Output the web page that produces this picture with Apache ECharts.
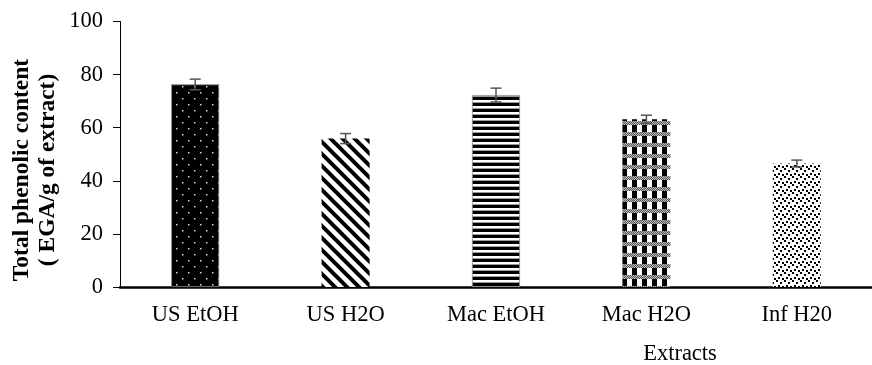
<!DOCTYPE html>
<html>
<head>
<meta charset="utf-8">
<script src="https://cdn.jsdelivr.net/npm/echarts@6/dist/echarts.min.js"></script>
<style>
html,body{margin:0;padding:0;background:#fff;}
#chart{width:872px;height:365px;}
</style>
</head>
<body>
<div id="chart"></div>
<script>
const categories = ['US EtOH', 'US H2O', 'Mac EtOH', 'Mac H2O', 'Inf H20'];
const values = [76.3, 55.9, 72.3, 63.2, 46.5];
const errors = [2.0, 1.9, 2.6, 1.5, 1.3];
const yTicks = [0, 20, 40, 60, 80, 100];

function tile(w, h, draw) {
  const c = document.createElement('canvas');
  c.width = w; c.height = h;
  const g = c.getContext('2d');
  draw(g, w, h);
  return { image: c, repeat: 'repeat' };
}
const patterns = [
  tile(12, 12, (g, w, h) => {
    g.fillStyle = '#000'; g.fillRect(0, 0, w, h);
    g.fillStyle = '#d8d8d8';
    g.fillRect(2, 2, 1.5, 1.5);
    g.fillRect(8, 8, 1.5, 1.5);
  }),
  tile(12, 12, (g, w, h) => {
    g.fillStyle = '#fff'; g.fillRect(0, 0, w, h);
    g.strokeStyle = '#000'; g.lineWidth = 4;
    for (let k = -1; k <= 1; k++) {
      g.beginPath();
      g.moveTo(-2, -2 + k * 12);
      g.lineTo(14, 14 + k * 12);
      g.stroke();
    }
  }),
  tile(6, 6, (g, w, h) => {
    g.fillStyle = '#fff'; g.fillRect(0, 0, w, h);
    g.fillStyle = '#000'; g.fillRect(0, 1, w, 3);
    g.fillStyle = '#999'; g.fillRect(0, 0, w, 1);
  }),
  tile(10, 11, (g, w, h) => {
    g.fillStyle = '#fff'; g.fillRect(0, 0, w, h);
    for (let x = 0; x < w; x++) {
      for (let y = 0; y < 4; y++) {
        g.fillStyle = ((x + y) % 2 === 0) ? '#555' : '#bbb';
        g.fillRect(x, y, 1, 1);
      }
    }
    g.fillStyle = '#000'; g.fillRect(2, 4, 5, 7);
  }),
  tile(8, 8, (g, w, h) => {
    g.fillStyle = '#fff'; g.fillRect(0, 0, w, h);
    g.fillStyle = '#000';
    g.fillRect(0, 0, 2, 2);
    g.fillRect(4, 2, 2, 2);
    g.fillRect(2, 5, 2, 2);
    g.fillRect(6, 6, 2, 2);
  })
];

const chart = echarts.init(document.getElementById('chart'), null, { renderer: 'canvas' });
const serif = 'Liberation Serif, Times New Roman, serif';
chart.setOption({
  animation: false,
  backgroundColor: '#fff',
  grid: { left: 120, right: -5, top: 21.5, bottom: 78, containLabel: false },
  xAxis: {
    type: 'category',
    data: categories,
    boundaryGap: true,
    axisLine: { lineStyle: { color: '#000', width: 2.5 } },
    axisTick: { show: false },
    axisLabel: { color: '#000', fontFamily: serif, fontSize: 22.5, margin: 17 },
    splitLine: { show: false }
  },
  yAxis: {
    type: 'value',
    min: 0, max: 100, interval: 20,
    axisLine: { show: true, lineStyle: { color: '#000', width: 1 } },
    axisTick: { show: true, inside: false, length: 7, lineStyle: { color: '#000' } },
    axisLabel: {
      color: '#000', fontFamily: serif, fontSize: 22.5, margin: 17,
      formatter: v => (yTicks.indexOf(v) >= 0 ? String(v) : '')
    },
    splitLine: { show: false }
  },
  graphic: [
    {
      type: 'text',
      x: 35, y: 170,
      rotation: Math.PI / 2,
      style: {
        text: 'Total phenolic content\n( EGA/g of extract)',
        fontFamily: serif, fontWeight: 'bold', fontSize: 23.5, lineHeight: 26,
        fill: '#000', align: 'center', verticalAlign: 'middle'
      }
    },
    {
      type: 'text',
      x: 680, y: 354,
      style: {
        text: 'Extracts', fontFamily: serif, fontSize: 22.5, fill: '#000',
        align: 'center', verticalAlign: 'middle'
      }
    }
  ],
  series: [
    {
      type: 'bar',
      barWidth: 48,
      data: values.map((v, i) => ({
        value: v,
        itemStyle: {
          color: patterns[i],
          borderColor: (i === 0 || i === 2) ? '#888' : 'transparent',
          borderWidth: (i === 0 || i === 2) ? 0.8 : 0
        }
      }))
    },
    {
      type: 'custom',
      data: values.map((v, i) => [i, v, errors[i]]),
      renderItem: function (params, api) {
        const i = api.value(0), v = api.value(1), e = api.value(2);
        const top = api.coord([i, v + e]);
        const bot = api.coord([i, v - e]);
        const hw = 5.5;
        const st = { stroke: '#555', lineWidth: 1.5 };
        return {
          type: 'group',
          children: [
            { type: 'line', shape: { x1: top[0], y1: top[1], x2: bot[0], y2: bot[1] }, style: st },
            { type: 'line', shape: { x1: top[0] - hw, y1: top[1], x2: top[0] + hw, y2: top[1] }, style: st },
            { type: 'line', shape: { x1: bot[0] - hw, y1: bot[1], x2: bot[0] + hw, y2: bot[1] }, style: st }
          ]
        };
      },
      z: 5
    }
  ]
});
</script>
</body>
</html>
